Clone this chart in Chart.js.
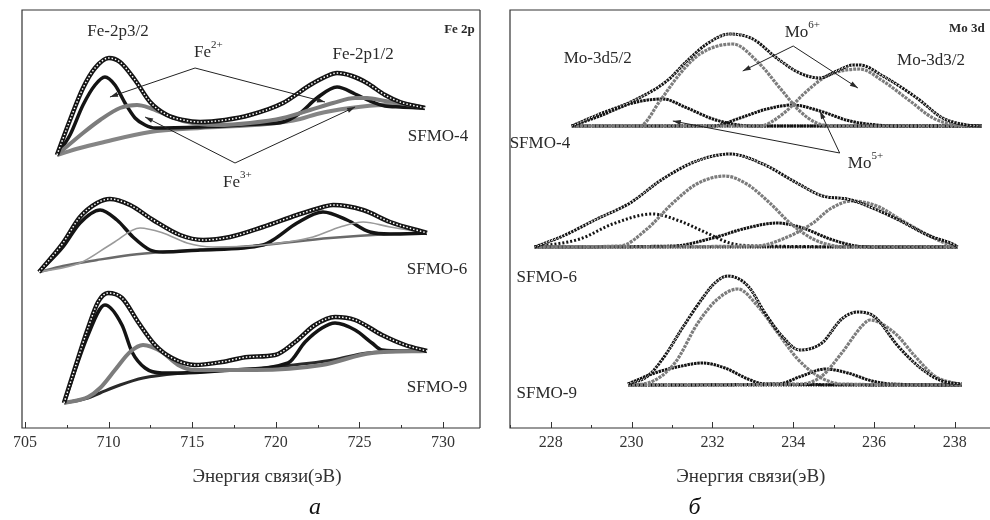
<!DOCTYPE html>
<html>
<head>
<meta charset="utf-8">
<script src="https://cdn.jsdelivr.net/npm/chart.js@4.4.0/dist/chart.umd.min.js"></script>
<style>
  body { margin: 0; background: #fff; }
  .panel { position: absolute; top: 0; height: 520px; }
</style>
</head>
<body>
<div class="panel" style="left:0;width:490px"><canvas id="feChart"></canvas></div>
<div class="panel" style="left:490px;width:500px"><canvas id="moChart"></canvas></div>
<script>
// Fe 2p : [энергия (эВ), интенсивность (отн. ед.)]
const fe4Env = [[706.91,273],[707.69,308],[708.47,340],[709.19,360],[710.02,370],[710.68,366],[711.58,348],[712.48,326],[713.49,313],[714.45,308],[715.47,306],[716.96,308],[718.46,313],[720.43,325],[722.05,343],[722.94,351],[723.66,355],[724.56,352],[725.45,345],[726.53,333],[727.43,326],[728.92,320]];
const fe4Fe2 = [[706.91,273],[707.69,293],[708.47,323],[709.19,343],[709.78,351],[710.38,343],[710.98,325],[711.58,310],[712.18,303],[712.78,300],[715.47,301],[719.06,304],[720.43,306],[721.45,315],[722.46,330],[723.66,341],[724.74,334],[725.63,327],[726.53,322],[727.43,321],[728.92,320]];
const fe4Fe3 = [[706.91,273],[708.47,295],[709.49,308],[710.68,320],[711.70,323],[712.48,320],[713.49,313],[714.45,307],[716.48,303],[718.46,305],[720.43,310],[722.05,318],[723.42,325],[724.74,330],[725.45,330],[726.53,327],[727.43,325],[728.92,320]];
const fe4Bg  = [[706.91,273],[708.29,280],[709.49,285],[712.48,296],[715.47,300],[719.47,304],[721.45,309],[722.46,314],[724.44,320],[726.41,323],[728.92,320]];

const fe6Env = [[705.84,156],[707.27,185],[708.29,211],[709.31,225],[710.08,229],[711.28,223],[712.66,208],[714.27,193],[715.65,188],[717.26,191],[719.23,201],[721.27,213],[722.82,221],[723.42,223],[725.22,218],[726.83,206],[729.04,195]];
const fe6Fe2 = [[705.84,156],[707.27,181],[708.29,205],[709.49,218],[710.50,208],[711.46,191],[712.48,178],[713.25,176],[715.47,178],[719.23,183],[719.83,188],[721.27,205],[722.82,216],[724.26,208],[725.63,196],[726.83,194],[729.04,195]];
const fe6Fe3 = [[705.84,156],[708.29,165],[710.26,185],[711.88,200],[713.25,195],[714.69,185],[716.24,181],[719.23,183],[722.22,191],[723.84,201],[725.22,206],[726.83,201],[729.04,195]];
const fe6Bg  = [[705.84,156],[707.27,162],[709.31,168],[711.28,173],[713.25,176],[715.47,178],[719.23,183],[723.24,190],[726.83,194],[729.04,195]];

const fe9Env = [[707.33,25],[707.99,60],[708.77,100],[709.37,126],[709.96,135],[710.80,130],[711.76,106],[712.78,83],[713.79,70],[715.17,63],[716.78,66],[718.34,71],[719.95,73],[721.15,86],[722.34,103],[723.54,111],[724.74,108],[726.35,93],[727.73,83],[729.04,77]];
const fe9Fe2 = [[707.33,25],[708.77,93],[709.78,123],[710.80,103],[711.40,76],[712.18,60],[713.19,55],[714.39,55],[717.44,58],[720.73,65],[721.75,86],[722.76,100],[723.54,105],[724.74,98],[725.75,85],[726.35,78],[727.73,77],[729.04,77]];
const fe9Fe3 = [[707.33,25],[708.77,31],[709.49,40],[710.38,58],[711.28,76],[712.06,83],[713.19,76],[714.15,63],[715.17,58],[718.76,58],[722.76,63],[725.75,75],[729.04,77]];
const fe9Bg  = [[707.33,25],[708.77,30],[709.49,35],[710.68,43],[712.06,50],[714.45,55],[717.44,58],[719.83,61],[723.42,68],[725.45,75],[729.04,77]];

// Mo 3d
const mo4Env = [[228.52,302],[229.21,314],[230.03,327],[230.87,347],[231.37,367],[231.86,384],[232.43,394],[233.00,389],[233.59,370],[234.16,355],[234.66,350],[235.08,357],[235.48,363],[235.65,363],[236.22,352],[237.06,330],[237.70,310],[238.30,303],[238.67,302]];
const mo4Mo6a = [[228.52,302],[230.20,302],[230.70,327],[231.19,354],[231.69,374],[232.50,384],[233.17,364],[233.67,340],[234.16,317],[234.58,305],[234.98,302],[238.67,302]];
const mo4Mo6b = [[228.52,302],[233.17,302],[233.74,314],[234.34,337],[234.83,352],[235.65,359],[236.22,347],[236.89,327],[237.46,310],[238.05,303],[238.67,302]];
const mo4Mo5a = [[228.52,302],[229.21,312],[230.03,325],[230.77,329],[231.37,320],[232.01,309],[232.50,304],[233.00,302],[238.67,302]];
const mo4Mo5b = [[228.52,302],[232.01,302],[232.68,310],[233.35,319],[233.99,323],[234.66,317],[235.40,307],[236.07,303],[236.64,302],[238.67,302]];
const mo4Base = [[228.52,302],[238.67,302]];

const mo6Env = [[227.60,181],[228.30,192],[229.14,209],[229.96,225],[230.77,249],[231.61,267],[232.43,274],[233.25,264],[234.09,245],[234.73,232],[235.33,229],[235.72,224],[236.56,209],[237.38,192],[237.95,184],[238.07,181]];
const mo6Mo6a = [[227.60,181],[229.71,182],[230.38,199],[231.02,225],[231.61,244],[232.31,252],[232.85,244],[233.42,225],[233.92,205],[234.49,189],[234.91,183],[235.33,181],[238.07,181]];
const mo6Mo6b = [[227.60,181],[233.10,182],[233.74,189],[234.49,205],[234.91,219],[235.45,227],[236.07,222],[236.71,207],[237.38,192],[237.95,182],[238.07,181]];
const mo6Mo5a = [[227.60,181],[228.72,189],[229.53,204],[230.52,214],[231.19,207],[231.86,195],[232.43,185],[233.10,182],[238.07,181]];
const mo6Mo5b = [[227.60,181],[231.02,182],[232.01,190],[232.85,200],[233.59,205],[234.24,200],[234.91,189],[235.57,182],[236.14,181],[238.07,181]];
const mo6Base = [[227.60,181],[238.07,181]];

const mo9Env = [[229.91,44],[230.40,52],[230.82,72],[231.24,99],[231.74,129],[232.06,145],[232.38,152],[232.88,142],[233.30,115],[233.72,92],[234.16,78],[234.71,85],[235.20,109],[235.60,116],[236.02,111],[236.59,82],[237.18,59],[237.68,47],[238.17,44]];
const mo9Mo6a = [[229.91,43],[230.40,45],[231.07,65],[231.64,105],[232.13,129],[232.63,139],[233.12,122],[233.62,95],[234.11,69],[234.61,52],[235.20,44],[238.17,43]];
const mo9Mo6b = [[229.91,43],[234.21,44],[234.71,52],[235.20,75],[235.70,102],[235.90,108],[236.51,95],[237.01,72],[237.50,52],[238.07,44],[238.17,43]];
const mo9Mo5a = [[229.91,44],[230.57,55],[231.24,62],[231.74,65],[232.31,60],[232.88,49],[233.30,44],[238.17,43]];
const mo9Mo5b = [[229.91,43],[233.62,44],[234.21,52],[234.80,59],[235.35,55],[235.95,47],[236.44,44],[238.17,43]];
const mo9Base = [[229.91,43],[238.17,43]];

const feRange = [704.82, 732.21];
const moRange = [226.99, 238.87];

const FONT = "'Liberation Serif', 'DejaVu Serif', serif";

function line(points, color, width, dash) {
    return {
        data: points.map(p => ({ x: p[0], y: p[1] })),
        borderColor: color,
        borderWidth: width,
        borderDash: dash || [],
        pointRadius: 0,
        cubicInterpolationMode: 'monotone',
        fill: false
    };
}

// рамка вокруг области графика
const boxPlugin = {
    id: 'box',
    afterDraw(chart, args, opts) {
        const a = chart.chartArea, ctx = chart.ctx;
        ctx.save();
        ctx.strokeStyle = '#333';
        ctx.lineWidth = 1.2;
        ctx.beginPath();
        ctx.moveTo(a.right, a.top); ctx.lineTo(a.left, a.top); ctx.lineTo(a.left, a.bottom); ctx.lineTo(a.right, a.bottom);
        if (opts.right) { ctx.moveTo(a.right, a.top); ctx.lineTo(a.right, a.bottom); }
        ctx.stroke();
        ctx.restore();
    }
};

// засечки внутрь
const ticksPlugin = {
    id: 'inTicks',
    afterDraw(chart, args, opts) {
        const xs = chart.scales.x, ctx = chart.ctx, b = chart.chartArea.bottom;
        ctx.save();
        ctx.strokeStyle = '#333';
        ctx.lineWidth = 1;
        const n0 = Math.ceil(xs.min / opts.minor), n1 = Math.floor(xs.max / opts.minor);
        for (let i = n0; i <= n1; i++) {
            const v = i * opts.minor;
            const px = Math.round(xs.getPixelForValue(v)) + 0.5;
            const major = Math.abs(v / opts.major - Math.round(v / opts.major)) < 1e-6;
            ctx.beginPath();
            ctx.moveTo(px, b);
            ctx.lineTo(px, b - (major ? 6 : 3));
            ctx.stroke();
        }
        ctx.restore();
    }
};

// подписи, стрелки, название оси
const notesPlugin = {
    id: 'notes',
    afterDraw(chart, args, opts) {
        const ctx = chart.ctx, xs = chart.scales.x, ys = chart.scales.y;
        const b = chart.chartArea.bottom;
        ctx.save();
        ctx.fillStyle = '#2a2a2a';
        ctx.textBaseline = 'middle';
        opts.texts.forEach(t => {
            const px = xs.getPixelForValue(t.x), py = ys.getPixelForValue(t.y);
            ctx.font = (t.bold ? 'bold ' : '') + (t.size || 17) + 'px ' + FONT;
            ctx.textAlign = t.align || 'center';
            ctx.fillText(t.t, px, py);
            if (t.sup) {
                const w = ctx.measureText(t.t).width;
                ctx.font = '11px ' + FONT;
                ctx.textAlign = 'left';
                ctx.fillText(t.sup, px + w, py - 8);
            }
        });
        ctx.strokeStyle = '#222';
        ctx.lineWidth = 1;
        opts.arrows.forEach(a => {
            const x0 = xs.getPixelForValue(a.from[0]), y0 = ys.getPixelForValue(a.from[1]);
            a.to.forEach(p => {
                const x1 = xs.getPixelForValue(p[0]), y1 = ys.getPixelForValue(p[1]);
                ctx.beginPath(); ctx.moveTo(x0, y0); ctx.lineTo(x1, y1); ctx.stroke();
                const ang = Math.atan2(y1 - y0, x1 - x0);
                ctx.beginPath();
                ctx.moveTo(x1, y1);
                ctx.lineTo(x1 - 8 * Math.cos(ang) + 2.5 * Math.sin(ang), y1 - 8 * Math.sin(ang) - 2.5 * Math.cos(ang));
                ctx.lineTo(x1 - 8 * Math.cos(ang) - 2.5 * Math.sin(ang), y1 - 8 * Math.sin(ang) + 2.5 * Math.cos(ang));
                ctx.closePath();
                ctx.fill();
            });
        });
        ctx.textAlign = 'center';
        ctx.font = '19px ' + FONT;
        ctx.fillStyle = '#333';
        ctx.fillText('Энергия связи(эВ)', xs.getPixelForValue(opts.titleX), b + 49);
        ctx.font = 'italic 24px ' + FONT;
        ctx.fillStyle = '#111';
        ctx.fillText(opts.caption, xs.getPixelForValue(opts.captionX), b + 80);
        ctx.restore();
    }
};

function makeChart(id, datasets, range, step, pad, extra) {
    return new Chart(document.getElementById(id), {
        type: 'line',
        data: { datasets: datasets },
        options: {
            responsive: true,
            maintainAspectRatio: false,
            animation: false,
            events: [],
            layout: { padding: pad },
            scales: {
                x: {
                    type: 'linear',
                    min: range[0],
                    max: range[1],
                    ticks: { stepSize: step, includeBounds: false, padding: 5, color: '#333', maxRotation: 0, autoSkip: false, font: { family: FONT, size: 16 } },
                    grid: { display: false, drawTicks: false },
                    border: { display: false },
                    afterFit(s) { s.height = 92; }
                },
                y: { display: false, min: 0, max: 418 }
            },
            plugins: {
                legend: { display: false },
                tooltip: { enabled: false },
                box: { right: extra.right },
                inTicks: { major: step, minor: step / 2 },
                notes: extra.notes
            }
        },
        plugins: [boxPlugin, ticksPlugin, notesPlugin]
    });
}

const BLACK = '#141414', GRAY = '#7c7c7c';

const feSets = [];
[[fe4Env, fe4Fe2, fe4Fe3, fe4Bg, GRAY, 4], [fe6Env, fe6Fe2, fe6Fe3, fe6Bg, '#9a9a9a', 1.6], [fe9Env, fe9Fe2, fe9Fe3, fe9Bg, GRAY, 4]].forEach(s => {
    feSets.push(line(s[0], '#fff', 1.5, [1.5, 2]));
    feSets.push(line(s[0], BLACK, 4.5));
    feSets.push(line(s[2], s[4], s[5]));
    feSets.push(line(s[1], BLACK, 3.5));
});
feSets.push(line(fe4Bg, '#858585', 4));
feSets.push(line(fe6Bg, '#6a6a6a', 2.5));
feSets.push(line(fe9Bg, '#2a2a2a', 3));

const moSets = [];
[[mo4Env, mo4Mo6a, mo4Mo6b, mo4Mo5a, mo4Mo5b, mo4Base, [2.5, 0.8]], [mo6Env, mo6Mo6a, mo6Mo6b, mo6Mo5a, mo6Mo5b, mo6Base, [2, 2]], [mo9Env, mo9Mo6a, mo9Mo6b, mo9Mo5a, mo9Mo5b, mo9Base, [2.5, 0.8]]].forEach(s => {
    moSets.push(line(s[0], '#fff', 1, [1, 2.5]));
    moSets.push(line(s[0], BLACK, 3, [2.5, 0.8]));
    moSets.push(line(s[1], '#7c7c7c', 3.2, [3, 1]));
    moSets.push(line(s[2], '#7c7c7c', 3.2, [3, 1]));
    moSets.push(line(s[3], BLACK, 3, s[6]));
    moSets.push(line(s[4], BLACK, 3, [2.5, 0.8]));
    moSets.push(line(s[5], '#111', 3, [1.5, 1]));
});

makeChart('feChart', feSets, feRange, 5, { left: 22, right: 10, top: 10, bottom: 0 }, {
    right: true,
    notes: {
        texts: [
            { t: 'Fe-2p3/2', x: 710.56, y: 396 },
            { t: 'Fe', sup: '2+', x: 715.11, y: 375, align: 'left' },
            { t: 'Fe-2p1/2', x: 725.22, y: 373 },
            { t: 'Fe 2p', x: 731.9, y: 398, align: 'right', bold: true, size: 13 },
            { t: 'SFMO-4', x: 729.7, y: 291 },
            { t: 'Fe', sup: '3+', x: 716.84, y: 245, align: 'left' },
            { t: 'SFMO-6', x: 729.64, y: 158 },
            { t: 'SFMO-9', x: 729.64, y: 40 }
        ],
        arrows: [
            { from: [715.17, 360], to: [[710.08, 331], [722.94, 326]] },
            { from: [717.56, 265], to: [[712.18, 311], [724.74, 321]] }
        ],
        titleX: 719.47,
        caption: 'а',
        captionX: 722.34
    }
});

makeChart('moChart', moSets, moRange, 2, { left: 20, right: 0, top: 10, bottom: 0 }, {
    right: false,
    notes: {
        texts: [
            { t: 'Mo-3d5/2', x: 229.16, y: 369 },
            { t: 'Mo', sup: '6+', x: 233.79, y: 395, align: 'left' },
            { t: 'Mo 3d', x: 238.74, y: 399, align: 'right', bold: true, size: 13 },
            { t: 'Mo-3d3/2', x: 237.41, y: 367 },
            { t: 'SFMO-4', x: 227.73, y: 284 },
            { t: 'Mo', sup: '5+', x: 235.35, y: 264, align: 'left' },
            { t: 'SFMO-6', x: 227.9, y: 150 },
            { t: 'SFMO-9', x: 227.9, y: 34 }
        ],
        arrows: [
            { from: [234.0, 382], to: [[232.75, 357], [235.6, 340]] },
            { from: [235.15, 275], to: [[231.02, 307], [234.66, 317]] }
        ],
        titleX: 232.95,
        caption: 'б',
        captionX: 231.56
    }
});
</script>
</body>
</html>
